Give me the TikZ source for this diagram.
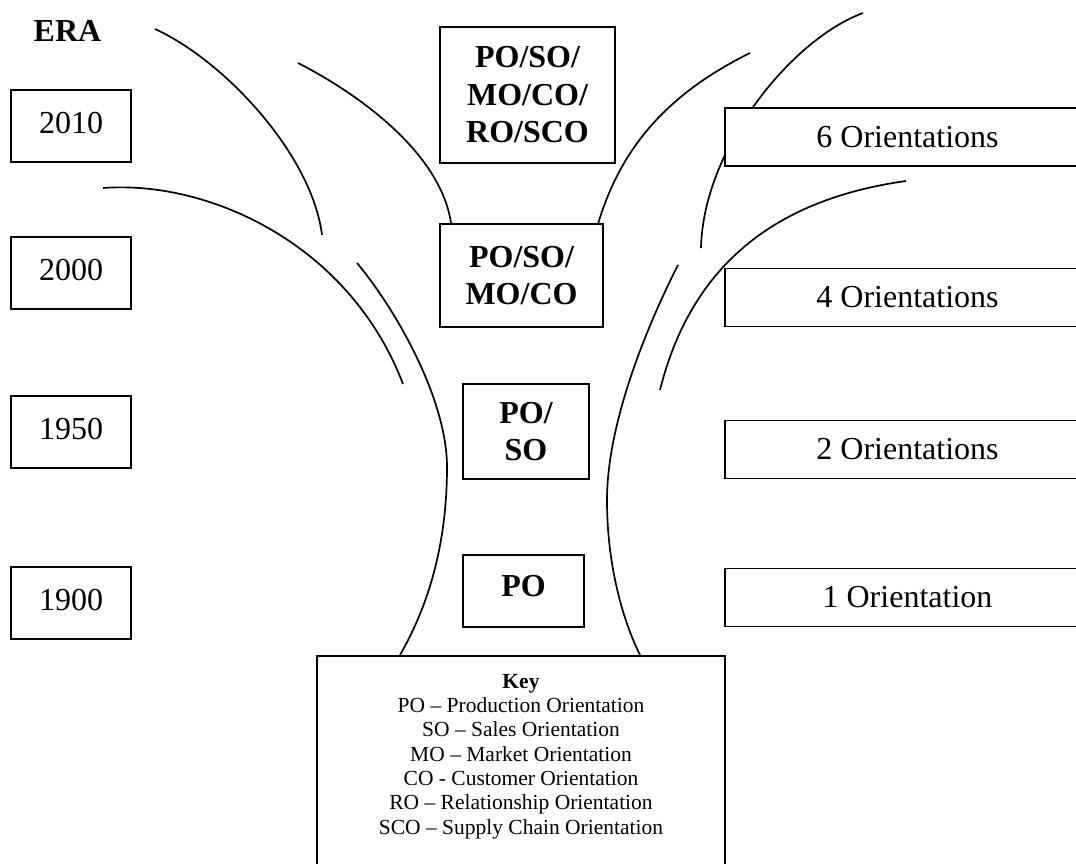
\documentclass[tikz,border=0pt]{standalone}
\usepackage{fontspec}
\setmainfont{Liberation Serif}
\begin{document}
\begin{tikzpicture}[x=1pt,y=-1pt,
  box/.style={draw, line width=1.9pt, fill=white, rectangle, inner sep=0pt, align=center},
  big/.style={font=\fontsize{32}{37.5}\selectfont},
  bigb/.style={font=\fontsize{32}{37.5}\selectfont\bfseries},
  branch/.style={line width=1.7pt},
  yearbox/.style={box, big, minimum width=120pt, minimum height=72pt, text depth=7pt},
  orbox/.style={box, big, minimum width=365pt, minimum height=58pt}]
\useasboundingbox (0,0) rectangle (1076,863);
\clip (0,0) rectangle (1076,863);

% branches and trunk
\draw[branch] (155,29) .. controls (225,61) and (312,155) .. (322,235);
\draw[branch] (298,63) .. controls (353,91) and (440,150) .. (451,223);
\draw[branch] (103,188) .. controls (210,180) and (350,245) .. (403,384);
\draw[branch] (357,263) .. controls (397,311) and (447,400) .. (447,467)
                        .. controls (447,560) and (420,620) .. (400,655);
\draw[branch] (678,265) .. controls (650,320) and (607,420) .. (607,500)
                        .. controls (607,570) and (625,625) .. (640,655);
\draw[branch] (598,224) .. controls (620,150) and (665,95) .. (750,53);
\draw[branch] (863,13) .. controls (790,40) and (703,150) .. (701,248);
\draw[branch] (906,181) .. controls (770,200) and (690,270) .. (660,390);

% era column
\node[bigb] (era) at (67.5,31) {ERA};
\node[yearbox] (y2010) at (71,126) {2010};
\node[yearbox] (y2000) at (71,273) {2000};
\node[yearbox] (y1950) at (71,432) {1950};
\node[yearbox] (y1900) at (71,603) {1900};

% centre boxes
\node[box, bigb, minimum width=175pt, minimum height=136pt] (b6) at (527.5,95) {PO/SO/\\MO/CO/\\RO/SCO};
\node[box, bigb, minimum width=163pt, minimum height=103pt] (b4) at (521.5,275.5) {PO/SO/\\MO/CO};
\node[box, bigb, minimum width=126pt, minimum height=95pt] (b2) at (526,431.5) {PO/\\SO};
\node[box, bigb, minimum width=121pt, minimum height=72pt, text depth=10pt] (b1) at (523.5,591) {PO};

% orientation boxes
\node[orbox] (o6) at (907.5,137) {6 Orientations};
\node[orbox] (o4) at (907.5,297.5) {4 Orientations};
\node[orbox] (o2) at (907.5,449.5) {2 Orientations};
\node[orbox] (o1) at (907.5,597.5) {1 Orientation};

% key
\node[box, minimum width=408pt, minimum height=260pt, anchor=north] (keybox) at (521,655) {};
\node[align=center, anchor=north, inner sep=0pt, font=\fontsize{21.5}{24.3}\selectfont] (keytext) at (521,674)
  {\textbf{Key}\\PO – Production Orientation\\SO – Sales Orientation\\MO – Market Orientation\\CO - Customer Orientation\\RO – Relationship Orientation\\SCO – Supply Chain Orientation};
\end{tikzpicture}
\end{document}
